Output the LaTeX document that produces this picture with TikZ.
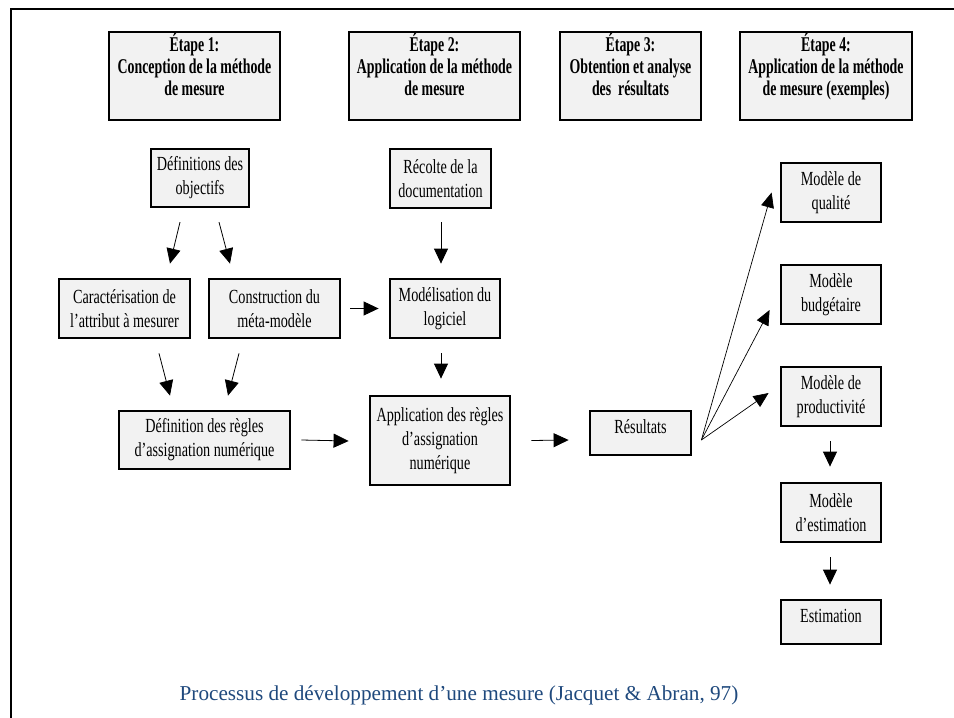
\documentclass[tikz,border=0pt]{standalone}
\usepackage{fontspec}
\setmainfont{Liberation Serif}
\newfontfamily\condf{Liberation Serif}[FakeStretch=0.71]
\newfontfamily\condb{Liberation Serif}[FakeStretch=0.66]
\usetikzlibrary{arrows.meta}
\definecolor{boxfill}{HTML}{F2F2F2}
\definecolor{capblue}{HTML}{1F497D}
\newcommand{\dn}[1]{\rule[-#1]{0pt}{#1}}
\begin{document}
\begin{tikzpicture}[x=1pt,y=-1pt,
  box/.style={draw=black, line width=2.8pt, fill=boxfill, inner sep=0pt, align=center,
    font=\condf\fontsize{20}{24}\selectfont},
  hdr/.style={box, minimum height=88pt, font=\condb\bfseries\fontsize{21}{21.7}\selectfont},
  arr/.style={-{Triangle[length=15pt,width=14pt]}, line width=0.8pt},
  farr/.style={-{Triangle[length=15pt,width=13pt]}, line width=0.7pt}]
\useasboundingbox (0,0) rectangle (954,718);
% frame
\draw[line width=2.5pt] (11,718) -- (11,9) -- (954,9);
% headers
\node[hdr, minimum width=171pt] (e1) at (194.5,76) {Étape 1:\\Conception de la méthode\\de mesure\dn{23pt}};
\node[hdr, minimum width=171pt] (e2) at (434.5,76) {Étape 2:\\Application de la méthode\\de mesure\dn{23pt}};
\node[hdr, minimum width=141pt] (e3) at (630.5,76) {Étape 3:\\Obtention et analyse\\des~ résultats\dn{23pt}};
\node[hdr, minimum width=172pt] (e4) at (826,76) {Étape 4:\\Application de la méthode\\de mesure (exemples)\dn{23pt}};
% column 1-2
\node[box, line width=2.2pt, minimum width=98pt, minimum height=58pt] (defobj) at (200,178) {Définitions des\\objectifs};
\node[box, minimum width=101pt, minimum height=59pt] (recolte) at (440.5,178.5) {Récolte de la\\documentation};
\node[box, minimum width=131pt, minimum height=59pt] (caract) at (124.5,308.5) {Caractérisation de\\l’attribut à mesurer};
\node[box, minimum width=131pt, minimum height=59pt] (constr) at (274.5,308.5) {Construction du\\méta-modèle};
\node[box, minimum width=110pt, minimum height=59pt] (modelis) at (445,308.5) {Modélisation du\\logiciel};
\node[box, minimum width=171pt, minimum height=58pt] (defregles) at (204.5,440) {Définition des règles\\d’assignation numérique};
\node[box, minimum width=140pt, minimum height=89pt] (appl) at (440,440.5) {Application des règles\\d’assignation\\numérique};
\node[box, minimum width=101pt, minimum height=44pt] (result) at (640.5,433) {Résultats\dn{12pt}};
% column 4
\node[box, minimum width=100pt, minimum height=59pt] (mqual) at (831,192.5) {Modèle de\\qualité};
\node[box, minimum width=100pt, minimum height=59pt] (mbudg) at (831,294.5) {Modèle\\budgétaire};
\node[box, minimum width=100pt, minimum height=59pt] (mprod) at (831,396.5) {Modèle de\\productivité};
\node[box, minimum width=100pt, minimum height=59pt] (mest) at (831,512.5) {Modèle\\d’estimation};
\node[box, minimum width=100pt, minimum height=44pt] (estim) at (831,622) {Estimation\dn{12pt}};
% caption
\node[font=\fontsize{21.2}{24}\selectfont, text=capblue] (cap) at (459,695) {Processus de développement d’une mesure (Jacquet \& Abran, 97)};
% arrows
\draw[arr] ([xshift=-20pt,yshift=-14pt]defobj.south) -- ([xshift=45.5pt,yshift=14pt]caract.north);
\draw[arr] ([xshift=19pt,yshift=-14pt]defobj.south) -- ([xshift=-44.5pt,yshift=14pt]constr.north);
\draw[arr] ([xshift=0.5pt,yshift=-13pt]recolte.south) -- ([xshift=-4pt,yshift=14pt]modelis.north);
\draw[arr] ([xshift=34.5pt,yshift=-14pt]caract.south) -- ([xshift=-34.5pt,yshift=14pt]defregles.north);
\draw[arr] ([xshift=-35.5pt,yshift=-14pt]constr.south) -- ([xshift=23.5pt,yshift=14pt]defregles.north);
\draw[arr] ([xshift=9pt]constr.east) -- ([xshift=-10pt]modelis.west);
\draw[arr] ([xshift=-4pt,yshift=-14pt]modelis.south) -- ([xshift=1pt,yshift=16pt]appl.north);
\draw[arr] ([xshift=10pt]defregles.east) -- ([xshift=-20pt,yshift=-0.5pt]appl.west);
\draw[arr] ([xshift=20pt]appl.east) -- ([xshift=-20pt,yshift=-7pt]result.west);
\coordinate (fan) at ([xshift=9pt,yshift=-7pt]result.east);
\draw[farr] (fan) -- ([xshift=-8pt]mqual.west);
\draw[farr] (fan) -- ([xshift=-10pt,yshift=-15.5pt]mbudg.west);
\draw[farr] (fan) -- ([xshift=-11pt,yshift=3.5pt]mprod.west);
\draw[arr] ([xshift=-1pt,yshift=-14pt]mprod.south) -- ([xshift=-1pt,yshift=15pt]mest.north);
\draw[arr] ([xshift=-1pt,yshift=-14pt]mest.south) -- ([xshift=-1pt,yshift=14pt]estim.north);
\end{tikzpicture}
\end{document}
